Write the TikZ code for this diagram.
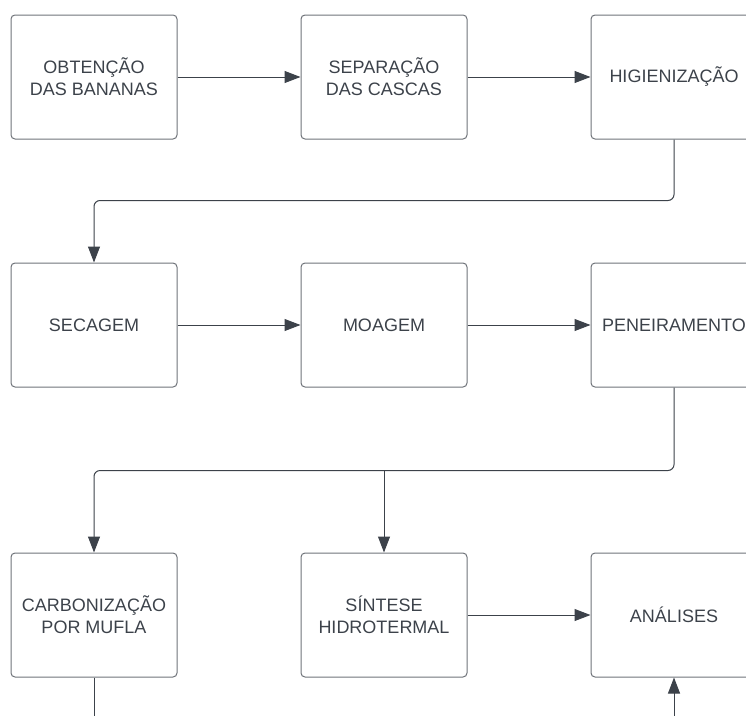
\documentclass[tikz,border=0pt]{standalone}
\usepackage{fontspec}
\setmainfont{Liberation Sans}
\usetikzlibrary{arrows.meta}
\definecolor{inkgray}{HTML}{3C424A}
\definecolor{framegray}{HTML}{6F7379}
\begin{document}
\begin{tikzpicture}[x=1pt,y=-1pt,
    stepbox/.style={draw=framegray,line width=1pt,rounded corners=4pt,
      minimum width=166pt,minimum height=124pt,align=center,text=inkgray,
      font=\fontsize{18}{22}\selectfont},
    flow/.style={draw=inkgray,line width=1pt,rounded corners=6pt,
      -{Triangle[length=16pt,width=12pt]}},
    plain/.style={draw=inkgray,line width=1pt}]
    \useasboundingbox (0,0) rectangle (746,715);
    \clip (0,0) rectangle (746,715);
    \def\x{290}
    \node[stepbox] (A0_0) at (94+0*\x, 77) {OBTENÇÃO\\DAS BANANAS};
    \node[stepbox] (A0_1) at (94+1*\x, 77) {SEPARAÇÃO\\DAS CASCAS};
    \node[stepbox] (A0_2) at (94+2*\x, 77) {HIGIENIZAÇÃO};
    \node[stepbox] (A1_0) at (94+0*\x, 325) {SECAGEM};
    \node[stepbox] (A1_1) at (94+1*\x, 325) {MOAGEM};
    \node[stepbox] (A1_2) at (94+2*\x, 325) {PENEIRAMENTO};
    \node[stepbox] (A2_0) at (94+0*\x, 615) {CARBONIZAÇÃO\\POR MUFLA};
    \node[stepbox] (A2_1) at (94+1*\x, 615) {SÍNTESE\\HIDROTERMAL};
    \node[stepbox] (A2_2) at (94+2*\x, 615) {ANÁLISES};
    \coordinate (E2_0) at (94+0*\x, 725);
    \coordinate (E2_2) at (94+2*\x, 725);
    \path (A0_0) edge [flow] (A0_1);
    \path (A0_1) edge [flow] (A0_2);
    \path (A1_0) edge [flow] (A1_1);
    \path (A1_1) edge [flow] (A1_2);
    \path (A2_1) edge [flow] (A2_2);
    \draw[flow] (A0_2.south) -- ++(0,61) -| (A1_0.north);
    \draw[flow] (A1_2.south) -- ++(0,83) coordinate (J1) -| (A2_0.north);
    \draw[flow] (A2_1.north |- J1) -- (A2_1.north);
    \draw[plain] (A2_0.south) -- (E2_0);
    \draw[flow] (E2_2) -- (A2_2.south);
  \end{tikzpicture}
\end{document}
